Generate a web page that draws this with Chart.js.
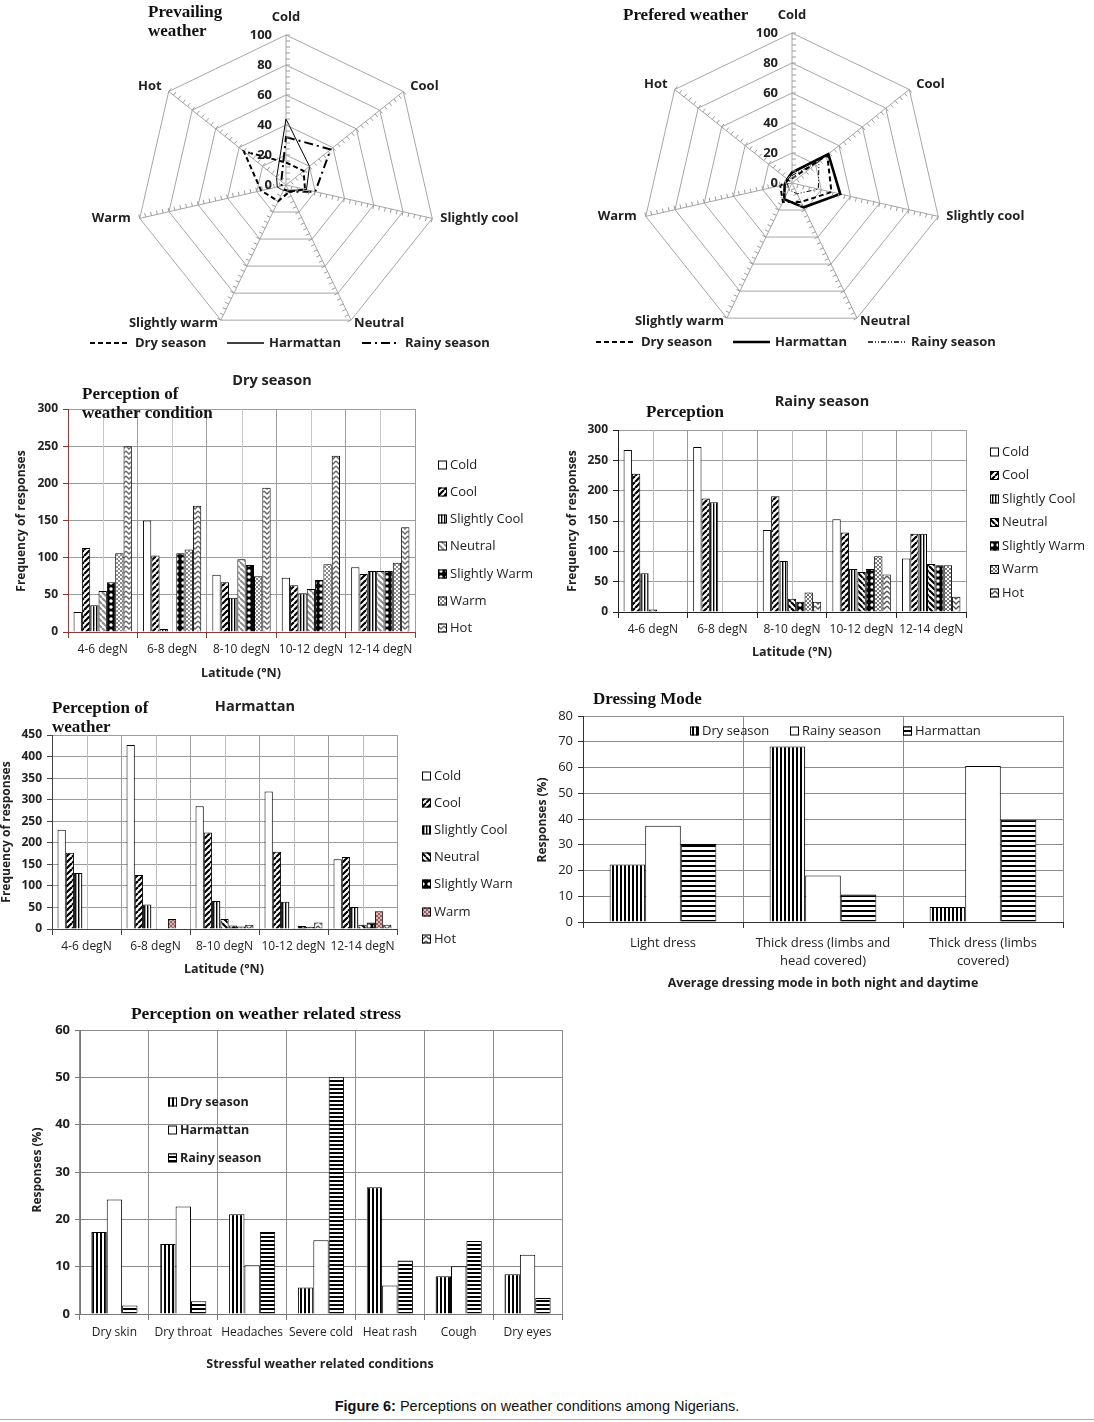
<!DOCTYPE html>
<html>
<head>
<meta charset="utf-8">
<script src="https://cdn.jsdelivr.net/npm/chart.js@4.4.1/dist/chart.umd.min.js"></script>
<style>
  body { margin: 0; background: #fff; width: 1094px; height: 1422px; position: relative; overflow: hidden; }
  canvas { position: absolute; }
  #caption { position: absolute; left: 0; width: 1074px; top: 1398px; text-align: center; font: 14.5px 'Liberation Sans', Arial, sans-serif; color: #111; }
  #rule { position: absolute; left: 0; top: 1419px; width: 1094px; height: 1px; background: #aaa; }
</style>
</head>
<body>
<canvas id="prevailing" width="460" height="360" style="left:80px;top:0px"></canvas>
<canvas id="prefered" width="460" height="360" style="left:586px;top:0px"></canvas>
<canvas id="dry" width="560" height="320" style="left:0px;top:370px"></canvas>
<canvas id="rainy" width="549" height="285" style="left:545px;top:380px"></canvas>
<canvas id="harmattan" width="512" height="285" style="left:0px;top:695px"></canvas>
<canvas id="dressing" width="574" height="305" style="left:520px;top:690px"></canvas>
<canvas id="stress" width="600" height="380" style="left:0px;top:1000px"></canvas>
<div id="caption"><b>Figure 6:</b> Perceptions on weather conditions among Nigerians.</div>
<div id="rule"></div>
<script>
// Radar charts: perception axes and values (0-100)
const radarLabels = ['Cold', 'Cool', 'Slightly cool', 'Neutral', 'Slightly warm', 'Warm', 'Hot'];
const radarTicks = [0, 20, 40, 60, 80, 100];
const prevailingDry = [15, 15, 13, 5, 12, 17, 36];
const prevailingHarmattan = [44, 20, 14, 4, 4, 6, 8];
const prevailingRainy = [32, 38, 20, 5, 3, 3, 4];
const preferedDry = [3, 30, 27, 14, 14, 8, 3];
const preferedHarmattan = [7, 31, 33, 18, 12, 5, 4];
const preferedRainy = [5, 23, 18, 8, 5, 3, 2];

// Bar charts by latitude band (one row per perception level)
const latBands = ['4-6 degN', '6-8 degN', '8-10 degN', '10-12 degN', '12-14 degN'];
const perceptionLevels = ['Cold', 'Cool', 'Slightly Cool', 'Neutral', 'Slightly Warm', 'Warm', 'Hot'];
const drySeasonCounts = [
    [27, 150, 77, 73, 87],
    [113, 103, 67, 63, 78],
    [36, 4, 46, 52, 82],
    [55, 0, 98, 58, 82],
    [67, 106, 90, 70, 82],
    [106, 111, 75, 91, 93],
    [250, 170, 194, 237, 141]
];
const rainySeasonCounts = [
    [267, 272, 135, 153, 88],
    [228, 187, 191, 131, 129],
    [64, 181, 84, 71, 129],
    [4, 0, 22, 66, 79],
    [0, 0, 17, 71, 77],
    [0, 0, 32, 92, 77],
    [0, 0, 17, 62, 25]
];
const harmattanCounts = [
    [230, 427, 285, 319, 162],
    [177, 125, 224, 179, 167],
    [130, 57, 65, 63, 51],
    [0, 0, 23, 2, 10],
    [0, 0, 8, 7, 15],
    [0, 23, 6, 5, 41],
    [0, 0, 10, 15, 10]
];

// Dressing mode (%)
const dressCategories = ['Light dress', ['Thick dress (limbs and', 'head covered)'], ['Thick dress (limbs', 'covered)']];
const dressDry = [22.3, 68.2, 5.8];
const dressRainy = [37.4, 18.1, 60.6];
const dressHarmattan = [30.3, 10.7, 39.7];

// Weather related stress (%)
const stressCategories = ['Dry skin', 'Dry throat', 'Headaches', 'Severe cold', 'Heat rash', 'Cough', 'Dry eyes'];
const stressDry = [17.3, 14.8, 21.1, 5.6, 26.8, 8.0, 8.4];
const stressHarmattan = [24.2, 22.7, 10.3, 15.6, 6.0, 10.1, 12.5];
const stressRainy = [1.8, 2.7, 17.3, 50.0, 11.3, 15.4, 3.4];

Chart.defaults.font.family = "'Open Sans', sans-serif";
const SERIF = "'Liberation Serif', 'Times New Roman', serif";

// ---------- patrones de relleno ----------
function makePattern(w, h, paint) {
    const c = document.createElement('canvas');
    c.width = w; c.height = h;
    const g = c.getContext('2d');
    g.fillStyle = '#fff';
    g.fillRect(0, 0, w, h);
    paint(g, w, h);
    return g.createPattern(c, 'repeat');
}
function diagUp(color, lw, size) {
    return makePattern(size, size, (g, w, h) => {
        g.strokeStyle = color; g.lineWidth = lw;
        for (let k = -1; k <= 1; k++) { g.beginPath(); g.moveTo(k * w, h); g.lineTo(k * w + w, 0); g.stroke(); }
    });
}
function diagDown(color, lw, size) {
    return makePattern(size, size, (g, w, h) => {
        g.strokeStyle = color; g.lineWidth = lw;
        for (let k = -1; k <= 1; k++) { g.beginPath(); g.moveTo(k * w, 0); g.lineTo(k * w + w, h); g.stroke(); }
    });
}
function vStripes(dark, darkW, period, mid) {
    return makePattern(period, 2, (g) => {
        g.fillStyle = dark; g.fillRect(0, 0, darkW, 2);
        if (mid) { g.fillStyle = mid; g.fillRect(darkW, 0, 1, 2); }
    });
}
function hStripes(dark, darkH, period) {
    return makePattern(2, period, (g) => { g.fillStyle = dark; g.fillRect(0, 0, 2, darkH); });
}
function dots(bg, dot) {
    return makePattern(6, 6, (g) => {
        g.fillStyle = bg; g.fillRect(0, 0, 6, 6);
        g.fillStyle = dot; g.beginPath(); g.arc(3, 3, 1.7, 0, Math.PI * 2); g.fill();
    });
}
function checker(color, bg) {
    return makePattern(4, 4, (g) => {
        if (bg) { g.fillStyle = bg; g.fillRect(0, 0, 4, 4); }
        g.fillStyle = color; g.fillRect(0, 0, 2, 2); g.fillRect(2, 2, 2, 2);
    });
}
function zigzag(color) {
    return makePattern(6, 5, (g) => {
        g.strokeStyle = color; g.lineWidth = 1.4;
        g.beginPath(); g.moveTo(0, 1); g.lineTo(3, 4); g.lineTo(6, 1); g.stroke();
    });
}

const dryFills = ['#fff', diagUp('#000', 2.2, 6), vStripes('#000', 1, 3, '#999'), diagDown('#8c8c8c', 2, 6),
    dots('#000', '#fff'), checker('#8a8a8a'), zigzag('#666')];
const rainyFills = ['#fff', diagUp('#000', 2.2, 6), vStripes('#000', 1, 3, '#999'), diagDown('#000', 2.2, 6),
    dots('#000', '#fff'), checker('#777'), zigzag('#555')];
const harmFills = ['#fff', diagUp('#000', 2.2, 6), vStripes('#000', 1, 3, '#999'), diagDown('#000', 2, 6),
    dots('#000', '#fff'), checker('#9a5c5c', '#dcb8b8'), zigzag('#555')];

// ---------- texto ----------
function drawText(ctx, t, left, top) {
    ctx.save();
    ctx.font = t.font;
    ctx.fillStyle = t.color || '#222';
    ctx.textAlign = t.align || 'center';
    ctx.textBaseline = 'middle';
    ctx.translate(t.x - left, t.y - top);
    if (t.rotate) ctx.rotate(-Math.PI / 2);
    ctx.fillText(t.text, 0, 0);
    ctx.restore();
}

// ---------- radar ----------
const labelDx = [0, 7, 8, 3, -3, -9, -7];
const labelDy = [-18, -5, 0, 3, 3, 0, -5];

function radarDeco(cfg, left, top) {
    return {
        id: 'radarDeco',
        afterDraw(chart) {
            const r = chart.scales.r;
            const ctx = chart.ctx;
            ctx.save();
            // marcas menores en cada eje
            ctx.strokeStyle = '#9a9a9a';
            ctx.lineWidth = 1;
            chart.data.labels.forEach((lab, i) => {
                const a = r.getIndexAngle(i);
                const nx = Math.cos(a), ny = Math.sin(a);
                for (let v = 4; v <= 100; v += 4) {
                    const p = r.getPointPositionForValue(i, v);
                    ctx.beginPath(); ctx.moveTo(p.x, p.y); ctx.lineTo(p.x + nx * 4, p.y + ny * 4); ctx.stroke();
                }
            });
            // etiquetas de valores
            ctx.fillStyle = '#222';
            ctx.font = "bold 13px 'Open Sans'";
            ctx.textAlign = 'right';
            ctx.textBaseline = 'middle';
            radarTicks.forEach(v => {
                const p = r.getPointPositionForValue(0, v);
                ctx.fillText(String(v), p.x - 14, p.y);
            });
            // etiquetas de los ejes
            chart.data.labels.forEach((lab, i) => {
                const p = r.getPointPositionForValue(i, 100);
                ctx.textAlign = i === 0 ? 'center' : (i <= 3 ? 'left' : 'right');
                ctx.fillText(lab, p.x + labelDx[i], p.y + labelDy[i]);
            });
            // leyenda
            const lx = [[10, 50], [147, 184], [282, 320]];
            chart.data.datasets.forEach((ds, i) => {
                ctx.save();
                ctx.strokeStyle = '#000';
                ctx.lineWidth = Math.max(ds.borderWidth, 1.3);
                ctx.setLineDash(ds.borderDash || []);
                ctx.beginPath(); ctx.moveTo(lx[i][0], cfg.legendY); ctx.lineTo(lx[i][1], cfg.legendY); ctx.stroke();
                ctx.restore();
                ctx.textAlign = 'left';
                ctx.fillText(ds.label, lx[i][1] + 5, cfg.legendY);
            });
            ctx.restore();
            cfg.texts.forEach(t => drawText(ctx, t, left, top));
        }
    };
}

function radarChart(id, series, styles, padding, cfg) {
    const el = document.getElementById(id);
    const left = parseFloat(el.style.left), top = parseFloat(el.style.top);
    const names = ['Dry season', 'Harmattan', 'Rainy season'];
    return new Chart(el, {
        type: 'radar',
        data: {
            labels: radarLabels,
            datasets: series.map((d, i) => ({
                label: names[i], data: d, fill: false, pointRadius: 0,
                borderColor: '#000', borderWidth: styles[i].w, borderDash: styles[i].dash
            }))
        },
        options: {
            responsive: false, animation: false, events: [],
            layout: { padding: padding },
            elements: { line: { tension: 0 } },
            plugins: { legend: { display: false }, tooltip: { enabled: false } },
            scales: {
                r: {
                    min: 0, max: 100,
                    ticks: { stepSize: 20, display: false },
                    grid: { color: '#a6a6a6', lineWidth: 1 },
                    angleLines: { color: '#a6a6a6', lineWidth: 1 },
                    pointLabels: { display: false }
                }
            }
        },
        plugins: [radarDeco(cfg, left, top)]
    });
}

radarChart('prevailing', [prevailingDry, prevailingHarmattan, prevailingRainy],
    [{ w: 2, dash: [5, 3] }, { w: 1, dash: [] }, { w: 2, dash: [9, 4, 2, 4] }],
    { left: 56, right: 104, top: 35, bottom: 25 },
    {
        legendY: 343,
        texts: [
            { text: 'Prevailing', x: 148, y: 13, font: `bold 17px ${SERIF}`, align: 'left', color: '#111' },
            { text: 'weather', x: 148, y: 32, font: `bold 17px ${SERIF}`, align: 'left', color: '#111' }
        ]
    });

radarChart('prefered', [preferedDry, preferedHarmattan, preferedRainy],
    [{ w: 2, dash: [5, 3] }, { w: 2.6, dash: [] }, { w: 1, dash: [5, 2, 1, 2, 1, 2] }],
    { left: 56, right: 104, top: 33, bottom: 27 },
    {
        legendY: 342,
        texts: [
            { text: 'Prefered weather', x: 623, y: 16, font: `bold 17px ${SERIF}`, align: 'left', color: '#111' }
        ]
    });

// ---------- barras ----------
function barDeco(opt, left, top) {
    return {
        id: 'barDeco',
        beforeDatasetsDraw(chart) {
            if (!opt.midGrid) return;
            const x = chart.scales.x, a = chart.chartArea, ctx = chart.ctx;
            ctx.save();
            ctx.strokeStyle = opt.midGrid;
            ctx.lineWidth = 1;
            chart.data.labels.forEach((l, i) => {
                const px = Math.round(x.getPixelForValue(i)) + 0.5;
                ctx.beginPath(); ctx.moveTo(px, a.top); ctx.lineTo(px, a.bottom + (opt.midTick || 0)); ctx.stroke();
            });
            ctx.restore();
        },
        afterDraw(chart) {
            const ctx = chart.ctx;
            const lg = opt.legend;
            ctx.save();
            chart.data.datasets.forEach((ds, i) => {
                const x = (Array.isArray(lg.x) ? lg.x[i] : lg.x) - left;
                const y = (Array.isArray(lg.y) ? lg.y[i] : lg.y) - top;
                ctx.fillStyle = ds.backgroundColor;
                ctx.fillRect(x, y - 4.5, 9, 9);
                ctx.strokeStyle = '#000';
                ctx.lineWidth = 1;
                ctx.strokeRect(x + 0.5, y - 4, 8, 8);
                ctx.fillStyle = '#222';
                ctx.font = lg.font;
                ctx.textAlign = 'left';
                ctx.textBaseline = 'middle';
                ctx.fillText(ds.label, x + 12, y);
            });
            ctx.restore();
            opt.texts.forEach(t => drawText(ctx, t, left, top));
        }
    };
}

function barChart(opt) {
    const el = document.getElementById(opt.id);
    const left = parseFloat(el.style.left), top = parseFloat(el.style.top);
    return new Chart(el, {
        type: 'bar',
        data: {
            labels: opt.labels,
            datasets: opt.series.map((s, i) => ({
                label: opt.names[i], data: s, backgroundColor: opt.fills[i],
                borderColor: '#000', borderWidth: 1,
                categoryPercentage: opt.catPct, barPercentage: 1
            }))
        },
        options: {
            responsive: false, animation: false, events: [],
            layout: { padding: opt.padding },
            plugins: { legend: { display: false }, tooltip: { enabled: false } },
            scales: {
                x: {
                    grid: { offset: true, color: opt.gridColor, tickLength: 6, tickColor: opt.axisColor },
                    border: { color: opt.axisColor },
                    ticks: { font: opt.xFont, color: '#222', padding: opt.xPad, maxRotation: 0, autoSkip: false },
                    afterFit: s => { s.height = opt.xh; }
                },
                y: {
                    min: 0, max: opt.yMax,
                    ticks: { stepSize: opt.yStep, font: opt.yFont, color: '#222', padding: 5 },
                    grid: { color: opt.gridColor, tickLength: 5, tickColor: opt.axisColor },
                    border: { color: opt.axisColor },
                    afterFit: s => { s.width = opt.yw; }
                }
            }
        },
        plugins: [barDeco(opt, left, top)]
    });
}

const yTitleFont = "bold 12px 'Open Sans'";
const xTitleFont = "bold 12.5px 'Open Sans'";

barChart({
    id: 'dry', labels: latBands, series: drySeasonCounts, names: perceptionLevels, fills: dryFills,
    catPct: 0.84, padding: { left: 0, top: 39, right: 145, bottom: 18 }, yw: 68, xh: 40, xPad: 4,
    yMax: 300, yStep: 50, gridColor: '#9c9c9c', midGrid: '#c8c8c8', axisColor: '#953735',
    xFont: { size: 12 }, yFont: { size: 12, weight: 'bold' },
    legend: { x: 438, y: [465, 492, 519, 546, 574, 601, 628], font: "13px 'Open Sans'" },
    texts: [
        { text: 'Dry season', x: 272, y: 381, font: "bold 14.5px 'Open Sans'" },
        { text: 'Perception of', x: 82, y: 395, font: `bold 17px ${SERIF}`, align: 'left', color: '#111' },
        { text: 'weather condition', x: 82, y: 414, font: `bold 17px ${SERIF}`, align: 'left', color: '#111' },
        { text: 'Frequency of responses', x: 22, y: 521, font: yTitleFont, rotate: true },
        { text: 'Latitude (°N)', x: 241, y: 673, font: xTitleFont }
    ]
});

barChart({
    id: 'rainy', labels: latBands, series: rainySeasonCounts, names: perceptionLevels, fills: rainyFills,
    catPct: 0.84, padding: { left: 0, top: 50, right: 128, bottom: 13 }, yw: 73, xh: 40, xPad: 4,
    yMax: 300, yStep: 50, gridColor: '#9c9c9c', midGrid: '#bdbdbd', axisColor: '#222',
    xFont: { size: 12 }, yFont: { size: 12, weight: 'bold' },
    legend: { x: 990, y: [452, 475.5, 499, 522.5, 546, 569.5, 593], font: "13px 'Open Sans'" },
    texts: [
        { text: 'Rainy season', x: 822, y: 402, font: "bold 14.5px 'Open Sans'" },
        { text: 'Perception', x: 646, y: 413, font: `bold 17px ${SERIF}`, align: 'left', color: '#111' },
        { text: 'Frequency of responses', x: 573, y: 521, font: yTitleFont, rotate: true },
        { text: 'Latitude (°N)', x: 792, y: 652, font: xTitleFont }
    ]
});

barChart({
    id: 'harmattan', labels: latBands, series: harmattanCounts, names: perceptionLevels, fills: harmFills,
    catPct: 0.84, padding: { left: 0, top: 40, right: 115, bottom: 11 }, yw: 52, xh: 40, xPad: 4,
    yMax: 450, yStep: 50, gridColor: '#9c9c9c', midGrid: '#bdbdbd', axisColor: '#444',
    xFont: { size: 12 }, yFont: { size: 12, weight: 'bold' },
    legend: { x: 422, y: [776, 803, 830, 857, 884, 912, 939], font: "13px 'Open Sans'" },
    texts: [
        { text: 'Harmattan', x: 255, y: 707, font: "bold 14.5px 'Open Sans'" },
        { text: 'Perception of', x: 52, y: 709, font: `bold 17px ${SERIF}`, align: 'left', color: '#111' },
        { text: 'weather', x: 52, y: 728, font: `bold 17px ${SERIF}`, align: 'left', color: '#111' },
        { text: 'Frequency of responses', x: 7, y: 832, font: yTitleFont, rotate: true },
        { text: 'Latitude (°N)', x: 224, y: 969, font: xTitleFont }
    ]
});

barChart({
    id: 'dressing', labels: dressCategories, series: [dressDry, dressRainy, dressHarmattan],
    names: ['Dry season', 'Rainy season', 'Harmattan'],
    fills: [vStripes('#000', 2, 4), '#fff', hStripes('#000', 2, 5)],
    catPct: 0.667, padding: { left: 0, top: 26, right: 31, bottom: 23 }, yw: 63, xh: 50, xPad: 6,
    yMax: 80, yStep: 10, gridColor: '#8c8c8c', axisColor: '#333',
    xFont: { size: 13, lineHeight: 1.38 }, yFont: { size: 13 },
    legend: { x: [690, 790, 903], y: 731, font: "13px 'Open Sans'" },
    texts: [
        { text: 'Dressing Mode', x: 593, y: 700, font: `bold 17px ${SERIF}`, align: 'left', color: '#111' },
        { text: 'Responses (%)', x: 543, y: 820, font: yTitleFont, rotate: true },
        { text: 'Average dressing mode in both night and daytime', x: 823, y: 983, font: xTitleFont }
    ]
});

barChart({
    id: 'stress', labels: stressCategories, series: [stressDry, stressHarmattan, stressRainy],
    names: ['Dry season', 'Harmattan', 'Rainy season'],
    fills: [vStripes('#000', 2, 4), '#fff', hStripes('#000', 2, 4.7)],
    catPct: 0.67, padding: { left: 0, top: 30, right: 38, bottom: 36 }, yw: 80, xh: 30, xPad: 5,
    yMax: 60, yStep: 10, gridColor: '#8c8c8c', axisColor: '#777',
    xFont: { size: 12 }, yFont: { size: 13, weight: 'bold' },
    legend: { x: 168, y: [1102, 1130, 1158], font: "bold 12.5px 'Open Sans'" },
    texts: [
        { text: 'Perception on weather related stress', x: 266, y: 1014, font: `bold 17.5px ${SERIF}`, color: '#111' },
        { text: 'Responses (%)', x: 38, y: 1170, font: yTitleFont, rotate: true },
        { text: 'Stressful weather related conditions', x: 320, y: 1364, font: xTitleFont }
    ]
});
</script>
</body>
</html>
